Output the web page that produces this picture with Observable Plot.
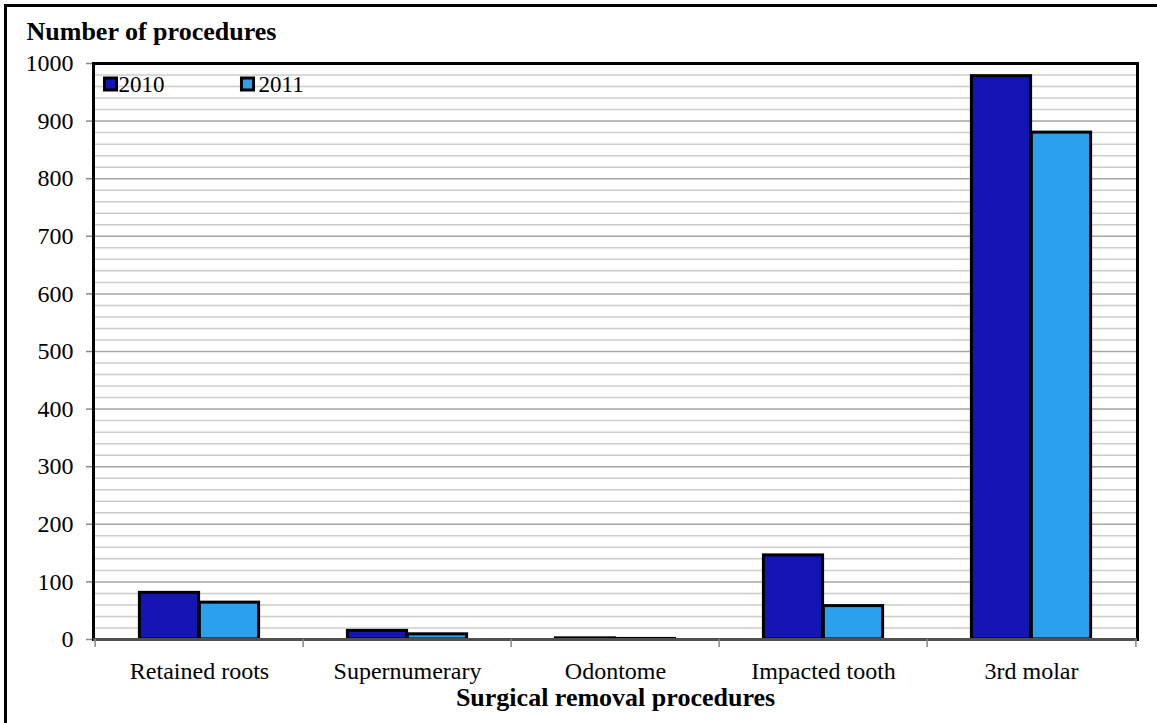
<!DOCTYPE html>
<html><head><meta charset="utf-8">
<script src="https://cdn.jsdelivr.net/npm/d3@7"></script>
<script src="https://cdn.jsdelivr.net/npm/@observablehq/plot@0.6"></script>
<style>
html,body{margin:0;padding:0;background:#fff;overflow:hidden}
[aria-label="y-axis tick"] path, [aria-label="y-axis"] .tick line {stroke:#888; stroke-width:1.5}
</style></head><body><div id="chart"></div>
<script>
const categories = ["Retained roots", "Supernumerary", "Odontome", "Impacted tooth", "3rd molar"];
const years = ["2010", "2011"];
const values2010 = [81, 15, 2, 146, 978];
const values2011 = [64, 9, 1, 58, 880];
const yTicks = [0, 100, 200, 300, 400, 500, 600, 700, 800, 900, 1000];
const minorGrid = [20, 40, 60, 80, 120, 140, 160, 180, 220, 240, 260, 280, 320, 340, 360, 380, 420, 440, 460, 480, 520, 540, 560, 580, 620, 640, 660, 680, 720, 740, 760, 780, 820, 840, 860, 880, 920, 940, 960, 980];
const colors = ["#1515b5", "#2ca0ec"];
const titleText = "Number of procedures";
const xTitle = "Surgical removal procedures";

const rows = categories.flatMap((c, i) => [
  {category: c, year: years[0], value: values2010[i]},
  {category: c, year: years[1], value: values2011[i]}
]);

const serif = "'Liberation Serif', 'Times New Roman', serif";
const half = 104.4;

const legendMarks = years.flatMap((yr, j) => [
  Plot.dot([yr], {frameAnchor: "top-left", dx: 17 + 137 * j, dy: 20.5, symbol: "square", r: 6.8, fill: colors[j], stroke: "black", strokeWidth: 3}),
  Plot.text([yr], {frameAnchor: "top-left", text: d => d, dx: 25 + 140 * j, dy: 28.5, textAnchor: "start", lineAnchor: "bottom", fontSize: 23})
]);

const plot = Plot.plot({
  width: 1157,
  height: 723,
  marginLeft: 93,
  marginRight: 20,
  marginTop: 63,
  marginBottom: 84,
  style: {fontFamily: serif, fontSize: "24px", background: "white", color: "black"},
  x: {domain: categories, padding: 0, tickSize: 0, tickPadding: 22, label: null},
  y: {domain: [0, 1000], ticks: yTicks, tickSize: 7, tickPadding: 13, tickFormat: "d", label: null},
  marks: [
    Plot.frame({stroke: "black", strokeWidth: 3, insetLeft: -88, insetTop: -58, insetRight: -40, insetBottom: -120}),
    Plot.ruleY(minorGrid, {stroke: "#cccccc", strokeWidth: 1.5}),
    Plot.ruleY(yTicks, {stroke: "#a6a6a6", strokeWidth: 1.5}),
    Plot.frame({stroke: "black", strokeWidth: 3}),
    Plot.barY(rows.filter(d => d.year === years[0]), {x: "category", y: "value", fill: colors[0], stroke: "black", strokeWidth: 3, insetLeft: half - 60, insetRight: half}),
    Plot.barY(rows.filter(d => d.year === years[1]), {x: "category", y: "value", fill: colors[1], stroke: "black", strokeWidth: 3, insetLeft: half, insetRight: half - 60}),
    Plot.ruleY([0], {stroke: "#505050", strokeWidth: 3}),
    Plot.ruleX(categories, {x: d => d, dx: -half, y1: 0, y2: -14, stroke: "#888", strokeWidth: 1.5}),
    Plot.ruleX([categories[categories.length - 1]], {x: d => d, dx: half, y1: 0, y2: -14, stroke: "#888", strokeWidth: 1.5}),
    ...legendMarks,
    Plot.text([titleText], {frameAnchor: "top-left", text: d => d, dx: -67, dy: -24, textAnchor: "start", lineAnchor: "bottom", fontWeight: "bold", fontSize: 26}),
    Plot.text([xTitle], {frameAnchor: "bottom", text: d => d, dy: 66, lineAnchor: "bottom", fontWeight: "bold", fontSize: 26})
  ]
});
document.getElementById("chart").appendChild(plot);
</script></body></html>
